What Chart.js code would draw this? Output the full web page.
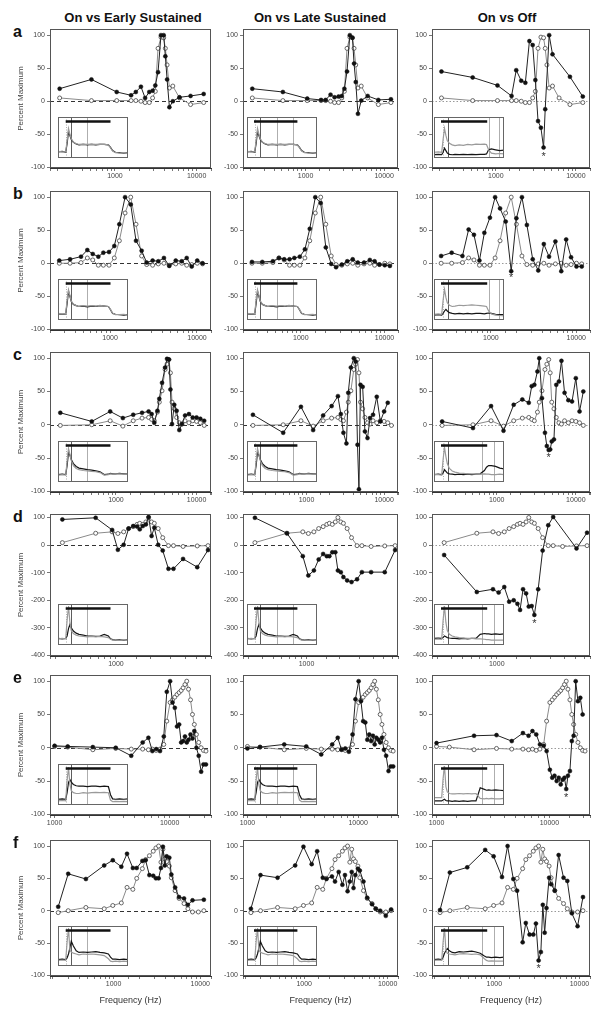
<!DOCTYPE html>
<html>
<head>
<meta charset="utf-8">
<script src="https://cdn.jsdelivr.net/npm/chart.js@4.4.1/dist/chart.umd.min.js"></script>
<style>
  body { margin: 0; background: #fff; width: 602px; height: 1020px; position: relative; overflow: hidden;
         font-family: "Liberation Sans", Arial, sans-serif; }
  canvas { position: absolute; }
  .title { position: absolute; top: 10px; font-weight: bold; font-size: 13px; color: #111; transform: translateX(-50%); white-space: nowrap; }
  .letter { position: absolute; left: 13px; font-weight: bold; font-size: 16px; line-height: 16px; color: #111; }
</style>
</head>
<body>
<div class="title" style="left:133px">On vs Early Sustained</div>
<div class="title" style="left:320px">On vs Late Sustained</div>
<div class="title" style="left:507px">On vs Off</div>
<script>
// ---- data (percent maximum vs tone frequency) ----
const freqA = [210, 515, 1050, 1575, 1800, 2080, 2340, 2630, 2890, 3120, 3370, 3660, 3950, 4140, 4350, 4640, 5110, 6170, 8430, 12200];
const onA = [5, 1, 1, 1, 1, 0, -2, -2, 5, 15, 80, 97, 96, 80, 55, 20, 23, 5, -5, -2];
const earlyA = [19, 33, 14, 9, 14, 22, 5, 14, 16, 24, 44, 100, 100, 68, 33, -9, 0, 6, 8, 11];
const lateA = [19, 14, 4, 2, 2, 10, 6, 7, 8, 19, 45, 100, 96, 57, 29, -19, 1, 8, 2, 3];
const offA = [45, 36, 24, 8, 47, 31, 28, 91, 85, 32, -30, -40, -70, -12, null, 100, 71, null, 37, 7];

const freqB = [261, 347, 464, 548, 633, 734, 838, 974, 1120, 1280, 1490, 1730, 1990, 2310, 2640, 3090, 3590, 4170, 4800, 5700, 6680, 7620, 8700, 10070, 11600];
const onB = [0, 0, 1, 8, 5, -3, -3, -3, 8, 34, 76, 100, 59, 11, -2, -3, -1, 0, -3, -1, 0, -3, -2, 0, -1];
const earlyB = [4, 6, 10, 20, 14, 10, 16, 17, 26, 59, 100, 89, 34, 19, 1, 4, 3, 8, -4, 4, 3, 8, -5, 4, 0];
const lateB = [2, 2, 3, 8, 6, 6, 8, 10, 21, 52, 100, 91, 24, -1, -6, -2, 3, 6, 1, 1, 5, 3, -2, -3, -4];
const offB = [11, 16, 11, 51, 43, 4, 46, 69, 100, 83, 63, -12, 68, 100, 58, 6, -11, 29, 10, 33, -12, 36, 9, -5, -5];

const freqC = [204, 501, 848, 1218, 1638, 2107, 2541, 2770, 2990, 3270, 3450, 3730, 4070, 4300, 4540, 4740, 4960, 5290, 5660, 6110, 6580, 7200, 8040, 8950, 10000, 11140, 12430];
const onC = [-1, 0, 6, -2, 6, 10, 11, 8, 6, 19, 34, 51, 83, 91, 98, 78, 34, 24, 11, 3, 1, 6, 3, 6, 5, 3, -1];
const earlyC = [18, 5, 20, 10, 15, 18, 20, 16, 3, 21, 39, 63, 86, 99, 98, 53, 1, 30, 21, -8, 1, 14, 16, 11, 11, 9, 6];
const lateC = [15, -12, 27, -8, 14, 28, 43, 16, -12, -28, 48, 86, 100, 95, -30, -97, 60, 57, -10, -20, 10, 15, 42, 5, 20, 33, null];
const offC = [5, -5, 28, -9, 30, 38, 33, 58, 60, 80, 100, 40, -12, -32, -38, -37, -25, -22, 60, 65, 96, 48, 37, 35, 70, 20, 50];

const freqD = [342, 666, 926, 1039, 1166, 1288, 1413, 1525, 1609, 1710, 1820, 1921, 2040, 2154, 2328, 2549, 2859, 3162, 3831, 5087, 6310];
const onD = [9, 43, 48, 42, 48, 60, 67, 75, 79, 75, 84, 100, 84, 79, 60, 27, -2, -2, -5, -3, -2];
const earlyD = [93, 99, 55, -17, 1, 60, 69, 67, 57, 69, 75, 102, 33, 63, 1, -20, -86, -86, -50, -80, -18];
const lateD = [99, 43, -40, -110, -92, -52, -32, -40, -40, -26, -26, -92, -98, -116, -128, -134, -124, -98, -98, -98, -18];
const offD = [-36, -170, -160, -172, -152, -205, -200, -213, -235, -160, -175, -223, -221, -253, -160, -20, 72, 102, null, -12, 45];

const freqE = [1000, 1300, 2150, 3400, 4640, 5830, 6540, 7080, 7650, 8250, 8900, 9450, 10100, 10600, 11100, 11600, 12100, 12600, 13100, 13600, 14100, 14600, 15200, 15800, 16400, 17100, 17900, 18800, 19700, 20700];
const onE = [2, 1, -3, -1, -2, -2, -3, -2, -4, -2, 5, 40, 68, 72, 76, 80, 83, 86, 90, 95, 100, 88, 72, 50, 35, 20, 8, 0, -4, -5];
const earlyE = [3, 2, 1, 0, -12, 8, 15, -5, -2, -5, 17, 84, 100, 68, 60, 32, 35, 8, 10, 17, 8, 12, 20, 14, 25, 0, -12, -36, -25, -25];
const lateE = [-1, 1, 5, 2, -10, 5, 15, -3, -1, -6, 20, 73, 100, 70, 40, 38, 12, 20, 10, 18, 5, 15, 12, 8, 15, -3, -12, -35, -28, -28];
const offE = [7, null, 18, 19, 10, 22, 18, 25, 20, 5, 3, -5, -33, -45, -42, -50, -45, -55, -48, -45, -62, -42, -35, 10, 18, 100, 70, 75, 50, null];

const freqF = [230, 300, 480, 780, 980, 1230, 1430, 1670, 1850, 2150, 2340, 2590, 2870, 3080, 3310, 3520, 3710, 3900, 4100, 4400, 4640, 5130, 5690, 6500, 7200, 8140, 9500, 11000];
const onF = [-3, 0, 5, 3, 8, 12, 36, 33, 50, 65, 79, 85, 92, 97, 100, 75, 95, 80, 76, 69, 51, 31, 19, 11, 3, -2, -2, 0];
const earlyF = [6, 57, 49, 70, 78, 68, 88, 66, 66, 77, 78, 55, 54, 50, 50, 66, 99, 70, 84, 82, 56, 36, 21, 19, 9, 16, null, 17];
const lateF = [3, 55, 51, 70, 99, 72, 92, 51, 49, 53, 45, 60, 40, 55, 30, 45, 60, 35, 55, 65, 62, 45, 20, 10, 3, 0, -8, 2];
const offF = [1, 59, 67, 94, 84, 52, 100, 49, 31, -49, -19, -37, -37, -20, -77, -64, 9, -34, 4, 51, 41, 31, 86, 51, 46, -4, -24, 21];

// asterisks under the On vs Off minimum: [point index, value]
const starA = [12, -85], starB = [11, -22], starC = [14, -50], starD = [13, -285], starE = [20, -75], starF = [14, -90];

// tick labels
const xLabelVals = [1000, 10000];
const yTicksPct = [100, 50, 0, -50, -100];
const yTicksWide = [100, 0, -100, -200, -300, -400];

// ---- inset PSTHs (time in % of trace, rate in % of inset height) ----
const insetTime = [0, 6, 11, 13, 15, 17, 19, 22, 26, 30, 36, 42, 48, 54, 60, 66, 72, 75, 78, 82, 88, 94, 100];
const aSusBlack = [15, 16, 14, 35, 65, 55, 45, 38, 34, 32, 33, 32, 33, 32, 33, 33, 32, 26, 18, 14, 13, 12, 13];
const aSusGray  = [16, 15, 15, 42, 72, 58, 47, 39, 35, 33, 34, 33, 34, 33, 34, 33, 32, 25, 17, 13, 12, 13, 12];
const aOffGray  = [14, 15, 14, 45, 72, 55, 42, 36, 32, 30, 32, 31, 33, 32, 34, 33, 34, 33, 20, 12, 10, 11, 10];
const aOffBlack = [8, 9, 8, 14, 24, 18, 12, 9, 8, 9, 8, 9, 8, 9, 8, 9, 9, 10, 20, 22, 20, 18, 19];
const bSusBlack = [15, 14, 15, 40, 70, 58, 45, 38, 35, 33, 34, 32, 34, 33, 35, 34, 33, 25, 16, 14, 13, 12, 13];
const bSusGray  = [16, 15, 16, 48, 74, 60, 46, 39, 35, 33, 35, 34, 35, 34, 36, 34, 33, 26, 17, 13, 13, 14, 12];
const bOffGray  = [14, 15, 14, 48, 75, 55, 42, 36, 33, 34, 36, 35, 36, 37, 36, 35, 34, 33, 22, 15, 12, 11, 10];
const bOffBlack = [12, 13, 12, 16, 22, 26, 22, 18, 16, 15, 16, 15, 16, 15, 16, 16, 15, 16, 17, 16, 14, 13, 13];
const cSusBlack = [18, 19, 18, 40, 72, 65, 55, 45, 38, 34, 32, 30, 29, 27, 25, 18, 19, 21, 20, 20, 21, 20, 20];
const cSusGray  = [17, 18, 17, 50, 82, 68, 52, 40, 33, 30, 28, 27, 26, 25, 23, 17, 18, 20, 19, 20, 20, 19, 20];
const cOffGray  = [18, 18, 17, 55, 85, 62, 45, 33, 27, 24, 22, 21, 20, 20, 19, 19, 20, 19, 19, 18, 18, 19, 18];
const cOffBlack = [18, 19, 18, 22, 30, 26, 22, 20, 19, 18, 19, 18, 19, 18, 19, 20, 28, 36, 40, 40, 38, 34, 32];
const dSusBlack = [16, 15, 16, 22, 40, 50, 42, 34, 29, 26, 24, 22, 22, 21, 22, 26, 22, 15, 13, 12, 13, 12, 13];
const dSusGray  = [15, 16, 15, 60, 95, 55, 35, 28, 24, 22, 21, 20, 21, 20, 21, 20, 18, 14, 12, 12, 12, 13, 12];
const dOffGray  = [14, 15, 14, 60, 95, 55, 35, 26, 22, 20, 18, 17, 16, 16, 15, 15, 14, 13, 13, 12, 12, 12, 12];
const dOffBlack = [16, 17, 16, 18, 22, 20, 18, 17, 16, 16, 15, 16, 15, 16, 16, 26, 28, 27, 27, 26, 27, 26, 27];
const eSusBlack = [14, 15, 14, 30, 55, 62, 56, 50, 47, 46, 46, 45, 46, 46, 45, 46, 45, 25, 15, 14, 15, 14, 15];
const eSusGray  = [10, 11, 10, 60, 92, 50, 35, 30, 28, 28, 30, 29, 30, 31, 30, 31, 30, 12, 8, 9, 8, 9, 8];
const eOffGray  = [18, 18, 18, 65, 95, 45, 32, 28, 27, 27, 28, 27, 28, 27, 28, 16, 15, 16, 15, 16, 15, 15, 16];
const eOffBlack = [10, 10, 10, 12, 14, 11, 10, 10, 9, 10, 9, 10, 9, 10, 10, 42, 38, 36, 37, 36, 37, 36, 35];
const fSusBlack = [16, 17, 16, 20, 30, 45, 62, 50, 38, 34, 35, 34, 35, 36, 34, 33, 30, 22, 17, 17, 16, 17, 16];
const fSusGray  = [14, 15, 14, 60, 95, 40, 35, 32, 30, 28, 30, 29, 30, 29, 28, 26, 18, 12, 11, 12, 11, 12, 11];
const fOffGray  = [14, 15, 14, 60, 95, 40, 32, 30, 29, 28, 30, 31, 30, 29, 30, 28, 18, 14, 12, 13, 12, 12, 12];
const fOffBlack = [16, 17, 16, 22, 32, 38, 44, 38, 34, 33, 36, 35, 36, 37, 35, 32, 25, 22, 22, 21, 22, 21, 22];

// window markers and stimulus bar inside the insets (percent of inset width)
const markersEarly = [12, 18, 42];
const markersLate = [12, 18, 43, 66];
const markersOffAB = [13, 20, 78, 93];
const markersOffCF = [13, 20, 69, 86];
const stimBar = [[11, 75], [10, 72], [10, 76]];

// ---- layout ----
const colLeft = [50, 243, 432];
const colWidth = [161, 155, 158];
const rowTop = [28, 190, 351, 513, 674, 839];
const rowBottom = [168, 330, 492, 656, 815, 976];
const insetShift = [8, 4, 2];

const rows = [
  { freq: freqA, on: onA, comps: [earlyA, lateA, offA], x: [160, 15000], star: starA,
    ins: [[aSusBlack, aSusGray], [aSusBlack, aSusGray], [aOffBlack, aOffGray]], offMk: markersOffAB },
  { freq: freqB, on: onB, comps: [earlyB, lateB, offB], x: [204, 14500], star: starB,
    ins: [[bSusBlack, bSusGray], [bSusBlack, bSusGray], [bOffBlack, bOffGray]], offMk: markersOffAB },
  { freq: freqC, on: onC, comps: [earlyC, lateC, offC], x: [152, 15100], star: starC,
    ins: [[cSusBlack, cSusGray], [cSusBlack, cSusGray], [cOffBlack, cOffGray]], offMk: markersOffCF },
  { freq: freqD, on: onD, comps: [earlyD, lateD, offD], x: [267, 6700], star: starD, wide: true,
    ins: [[dSusBlack, dSusGray], [dSusBlack, dSusGray], [dOffBlack, dOffGray]], offMk: markersOffCF },
  { freq: freqE, on: onE, comps: [earlyE, lateE, offE], x: [912, 22900], star: starE,
    ins: [[eSusBlack, eSusGray], [eSusBlack, eSusGray], [eOffBlack, eOffGray]], offMk: markersOffCF },
  { freq: freqF, on: onF, comps: [earlyF, lateF, offF], x: [185, 13300], star: starF,
    ins: [[fSusBlack, fSusGray], [fSusBlack, fSusGray], [fOffBlack, fOffGray]], offMk: markersOffCF }
];

Chart.defaults.font.family = '"Liberation Sans", Arial, sans-serif';
Chart.defaults.color = '#444';

function makeCanvas(left, top, w, h) {
  const c = document.createElement('canvas');
  c.width = w; c.height = h;
  c.style.left = left + 'px'; c.style.top = top + 'px';
  c.style.width = w + 'px'; c.style.height = h + 'px';
  document.body.appendChild(c);
  return c;
}

// frame, zero line and asterisk for a panel
const panelDeco = {
  id: 'panelDeco',
  beforeDatasetsDraw(chart, args, opts) {
    const { ctx, chartArea: a, scales } = chart;
    const y0 = Math.round(scales.y.getPixelForValue(0)) + 0.5;
    ctx.save();
    ctx.strokeStyle = opts.dotted ? '#999' : '#333';
    ctx.setLineDash(opts.dotted ? [1.5, 2] : [4, 3]);
    ctx.lineWidth = 1;
    ctx.beginPath(); ctx.moveTo(a.left, y0); ctx.lineTo(a.right, y0); ctx.stroke();
    ctx.restore();
  },
  afterDraw(chart, args, opts) {
    const { ctx, chartArea: a, scales } = chart;
    ctx.save();
    ctx.strokeStyle = '#555';
    ctx.lineWidth = 1;
    ctx.strokeRect(Math.round(a.left) + 0.5, Math.round(a.top) + 0.5,
                   Math.round(a.right - a.left) - 1, Math.round(a.bottom - a.top) - 1);
    if (opts.star) {
      ctx.fillStyle = '#333';
      ctx.font = '11px "Liberation Sans", Arial, sans-serif';
      ctx.textAlign = 'center'; ctx.textBaseline = 'middle';
      ctx.fillText('*', scales.x.getPixelForValue(opts.star[0]), scales.y.getPixelForValue(opts.star[1]));
    }
    ctx.restore();
  }
};

// inset background, window markers and border
const insetDeco = {
  id: 'insetDeco',
  beforeDatasetsDraw(chart, args, opts) {
    const { ctx, chartArea: a, scales } = chart;
    ctx.save();
    ctx.fillStyle = '#fff';
    ctx.fillRect(0, 0, chart.width, chart.height);
    opts.markers.forEach((m, i) => {
      const x = Math.round(scales.x.getPixelForValue(m)) + 0.5;
      ctx.strokeStyle = i === 1 ? '#333' : '#999';
      ctx.setLineDash(i === 0 ? [1, 1.5] : []);
      ctx.lineWidth = 0.8;
      ctx.beginPath(); ctx.moveTo(x, a.top); ctx.lineTo(x, a.bottom); ctx.stroke();
    });
    ctx.restore();
  },
  afterDraw(chart) {
    const ctx = chart.ctx;
    ctx.save();
    ctx.strokeStyle = '#666';
    ctx.lineWidth = 1;
    ctx.strokeRect(0.5, 0.5, chart.width - 1, chart.height - 1);
    ctx.restore();
  }
};

rows.forEach((row, r) => {
  const top = rowTop[r], bottom = rowBottom[r], h = bottom - top;
  const yMin = row.wide ? -402 : -101, yMax = row.wide ? 112 : 109;
  const yVals = row.wide ? yTicksWide : yTicksPct;
  const xh = r === 5 ? 32 : 16;

  // row letter
  const lt = document.createElement('div');
  lt.className = 'letter';
  lt.style.top = (top - 4) + 'px';
  lt.textContent = 'abcdef'[r];
  document.body.appendChild(lt);

  for (let c = 0; c < 3; c++) {
    const aw = c === 0 ? 34 : 30;
    const w = colWidth[c];
    const cv = makeCanvas(colLeft[c] - aw, top - 5, aw + w + 5, 5 + h + xh);
    new Chart(cv, {
      type: 'line',
      data: {
        datasets: [
          { label: 'comparison', data: row.freq.map((f, i) => ({ x: f, y: row.comps[c][i] })),
            borderColor: '#222', borderWidth: 1, pointRadius: 2, pointBackgroundColor: '#111',
            pointBorderColor: '#111', pointBorderWidth: 0.5, spanGaps: true, tension: 0, order: 0 },
          { label: 'on', data: row.freq.map((f, i) => ({ x: f, y: row.on[i] })),
            borderColor: '#8a8a8a', borderWidth: 1, pointRadius: 2, pointBackgroundColor: '#fff',
            pointBorderColor: '#444', pointBorderWidth: 0.8, spanGaps: true, tension: 0, order: 1 }
        ]
      },
      options: {
        responsive: false, animation: false, events: [], devicePixelRatio: 1,
        layout: { padding: { left: 0, top: 5, right: 5, bottom: 0 } },
        plugins: {
          legend: { display: false }, tooltip: { enabled: false },
          panelDeco: { dotted: c === 2, star: c === 2 ? [row.freq[row.star[0]], row.star[1]] : null }
        },
        scales: {
          x: {
            type: 'logarithmic', min: row.x[0], max: row.x[1],
            afterFit: s => { s.height = xh; },
            grid: { drawOnChartArea: false, tickLength: 3, color: '#777' },
            border: { color: '#333' },
            ticks: { autoSkip: false, maxRotation: 0, padding: 1, color: '#444', font: { size: 7 },
                     callback: v => xLabelVals.includes(v) ? String(v) : '' },
            title: r === 5 ? { display: true, text: 'Frequency (Hz)', color: '#333', font: { size: 9 }, padding: { top: 1, bottom: 2 } }
                           : { display: false }
          },
          y: {
            min: yMin, max: yMax,
            afterFit: s => { s.width = aw; },
            afterBuildTicks: s => { s.ticks = yVals.map(v => ({ value: v })); },
            grid: { drawOnChartArea: false, tickLength: 3, color: '#777' },
            border: { color: '#333' },
            ticks: { padding: 2, color: '#444', font: { size: 7 } },
            title: c === 0 ? { display: true, text: 'Percent Maximum', color: '#444', font: { size: 8 }, padding: { top: 0, bottom: 0 } }
                           : { display: false }
          }
        }
      },
      plugins: [panelDeco]
    });
  }
});

// insets on top of the panels
rows.forEach((row, r) => {
  const top = rowTop[r], h = rowBottom[r] - top;
  for (let c = 0; c < 3; c++) {
    const iw = 70, ih = Math.round(0.29 * h);
    const cv = makeCanvas(colLeft[c] + insetShift[c], Math.round(top + 0.635 * h), iw, ih);
    const [blk, gry] = row.ins[c];
    const markers = c === 0 ? markersEarly : c === 1 ? markersLate : row.offMk;
    new Chart(cv, {
      type: 'line',
      data: {
        datasets: [
          { data: stimBar[c].map(t => ({ x: t, y: 89 })), borderColor: '#111', borderWidth: 2.5, pointRadius: 0 },
          { data: insetTime.map((t, i) => ({ x: t, y: gry[i] })), borderColor: '#9a9a9a', borderWidth: 1.2, pointRadius: 0, tension: 0 },
          { data: insetTime.map((t, i) => ({ x: t, y: blk[i] })), borderColor: '#151515', borderWidth: 1.2, pointRadius: 0, tension: 0 }
        ]
      },
      options: {
        responsive: false, animation: false, events: [], devicePixelRatio: 1,
        layout: { padding: 0 },
        plugins: { legend: { display: false }, tooltip: { enabled: false }, insetDeco: { markers } },
        scales: {
          x: { type: 'linear', min: 0, max: 100, display: false },
          y: { min: 0, max: 100, display: false }
        }
      },
      plugins: [insetDeco]
    });
  }
});
</script>
</body>
</html>
